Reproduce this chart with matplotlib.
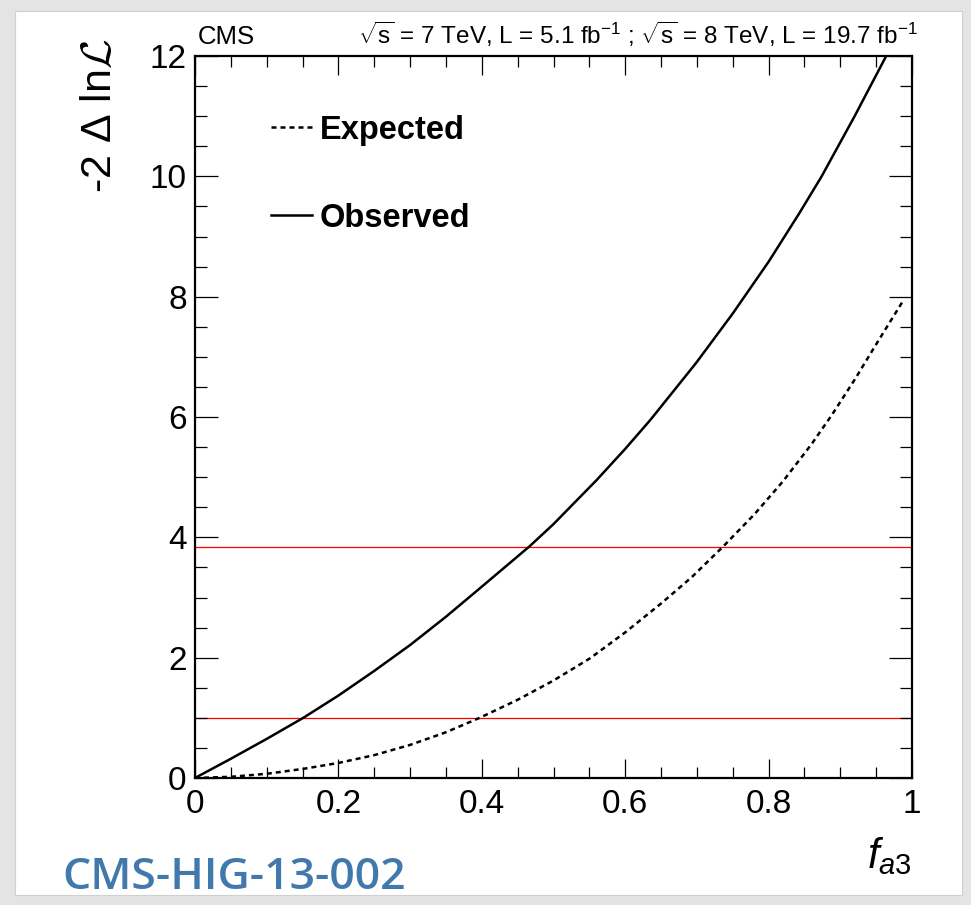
import numpy as np
import matplotlib.pyplot as plt
from matplotlib.patches import Rectangle
from matplotlib.ticker import MultipleLocator

plt.rcParams['font.family'] = ['Liberation Sans', 'DejaVu Sans']
plt.rcParams['mathtext.fontset'] = 'custom'
plt.rcParams['mathtext.rm'] = 'Liberation Sans'
plt.rcParams['mathtext.it'] = 'Liberation Sans:italic'

# valores
f_obs = [0, 0.05, 0.1, 0.151, 0.2, 0.25, 0.3, 0.35, 0.4, 0.467, 0.5, 0.56, 0.6,
         0.635, 0.699, 0.75, 0.8, 0.843, 0.874, 0.92, 0.964]
nll_obs = [0, 0.32, 0.65, 1.0, 1.37, 1.78, 2.21, 2.68, 3.18, 3.855, 4.22, 4.95, 5.47,
           5.95, 6.9, 7.72, 8.58, 9.39, 10.0, 11.0, 12.0]

f_exp = [0, 0.05, 0.1, 0.15, 0.2, 0.25, 0.3, 0.35, 0.397, 0.45, 0.5, 0.551, 0.6,
         0.65, 0.693, 0.736, 0.78, 0.82, 0.86, 0.888, 0.92, 0.947, 0.988]
nll_exp = [0, 0.02, 0.07, 0.15, 0.25, 0.38, 0.55, 0.76, 1.0, 1.3, 1.62, 1.99, 2.42,
           2.9, 3.34, 3.84, 4.38, 4.93, 5.55, 6.03, 6.62, 7.15, 7.94]

cl_levels = [1.0, 3.84]

fig = plt.figure(figsize=(9.71, 9.05), dpi=100)
fig.patch.set_facecolor('#e4e4e4')
fig.patches.append(Rectangle((15/971, 1-895/905), 947/971, 884/905,
                             transform=fig.transFigure, facecolor='white',
                             edgecolor='#d0d0d0', lw=0.8, zorder=-5))

ax = fig.add_axes([195/971, 1-778/905, 717/971, 722/905])
ax.set_facecolor('none')

for lv in cl_levels:
    ax.hlines(lv, 0, 1, color='red', lw=0.9, zorder=1)

ax.plot(f_exp, nll_exp, color='black', lw=1.8, ls=(0, (2.0, 1.6)), label='Expected', zorder=2)
ax.plot(f_obs, nll_obs, color='black', lw=1.8, label='Observed', zorder=3)

ax.set_xlim(0, 1)
ax.set_ylim(0, 12)
ax.xaxis.set_minor_locator(MultipleLocator(0.05))
ax.yaxis.set_minor_locator(MultipleLocator(0.5))
ax.set_xticks([0, 0.2, 0.4, 0.6, 0.8, 1])
ax.set_xticklabels(['0', '0.2', '0.4', '0.6', '0.8', '1'])
ax.set_yticks([0, 2, 4, 6, 8, 10, 12])
ax.set_yticklabels(['0', '2', '4', '6', '8', '10', '12'])
ax.tick_params(which='both', direction='in', top=True, right=True, width=0.9,
               labelsize=24)
ax.tick_params(axis='x', which='major', length=14, pad=8)
ax.tick_params(axis='x', which='minor', length=8)
ax.tick_params(axis='y', which='major', length=16.5, pad=6)
ax.tick_params(axis='y', which='minor', length=8.5)
for s in ax.spines.values():
    s.set_linewidth(1.6)

ax.legend(loc='upper left', bbox_to_anchor=(0.088, 0.937), frameon=False,
          prop={'weight': 'bold', 'size': 23.5}, handlelength=1.25,
          handletextpad=0.25, labelspacing=1.75, borderaxespad=0)

fig.text(100/971, 1-38/905, '-2 Δ ln$\\mathcal{L}$', rotation=90, ha='center', va='top',
         fontsize=31, math_fontfamily='cm')
fig.text(912/971, 1-868/905, '$f_{a3}$', ha='right', va='baseline', fontsize=30)
fig.text(198/971, 1-44/905, 'CMS', ha='left', va='baseline', fontsize=18.5)
fig.text(918/971, 1-44/905, '$\\sqrt{\\mathrm{s}}$ = 7 TeV, L = 5.1 fb$^{-1}$ ; $\\sqrt{\\mathrm{s}}$ = 8 TeV, L = 19.7 fb$^{-1}$',
         ha='right', va='baseline', fontsize=17.5)
fig.text(62/971, 1-889/905, 'CMS-HIG-13-002', ha='left', va='baseline', fontsize=32,
         fontweight='semibold', family='Open Sans', color='#4279ad')

fig.savefig('out.png', dpi=100, facecolor=fig.get_facecolor())
